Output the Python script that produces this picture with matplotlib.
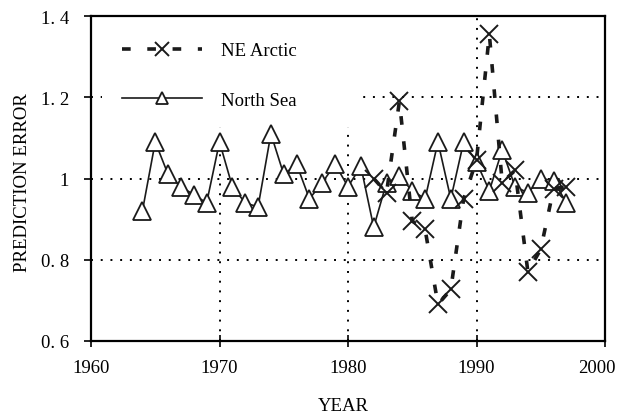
import matplotlib
matplotlib.use("Agg")
import matplotlib.pyplot as plt
import matplotlib.transforms as mtransforms
from matplotlib.patches import Rectangle

# North Sea prediction error, 1964-1997
ns_years = list(range(1964, 1998))
ns_err = [0.92, 1.09, 1.01, 0.98, 0.96, 0.94, 1.09, 0.98, 0.94, 0.93,
          1.11, 1.01, 1.035, 0.95, 0.99, 1.035, 0.98, 1.03, 0.88, 0.99,
          1.005, 0.97, 0.95, 1.09, 0.95, 1.09, 1.04, 0.97, 1.07, 0.98,
          0.965, 1.0, 0.995, 0.94]

# NE Arctic prediction error, 1982-1997
ne_years = list(range(1982, 1998))
ne_err = [1.0, 0.965, 1.19, 0.895, 0.875, 0.69, 0.727, 0.95, 1.045, 1.355,
          0.99, 1.02, 0.77, 0.826, 0.975, 0.98]

yticks = [0.6, 0.8, 1.0, 1.2, 1.4]
ytick_labels = ["0. 6", "0. 8", "1", "1. 2", "1. 4"]
xticks = [1960, 1970, 1980, 1990, 2000]

plt.rcParams['font.family'] = ['Liberation Serif', 'DejaVu Serif']
plt.rcParams['font.size'] = 13.5

fig = plt.figure(figsize=(6.18, 4.14), dpi=100)
ax = fig.add_axes([91/618, 1 - 342/414, 514/618, 325/414])

# partial dotted grid
for y in [0.8, 1.0, 1.2]:
    ax.axhline(y, color='black', lw=1.4, linestyle=(0, (1, 4)), zorder=1)
for x in [1970, 1980, 1990]:
    ax.axvline(x, color='black', lw=1.4, linestyle=(0, (1, 4)), zorder=1)

# white area behind legend hides the grid there
ax.add_patch(Rectangle((0.021, 0.66), 0.495, 0.34, transform=ax.transAxes,
                       facecolor='white', edgecolor='none', zorder=2))

ax.plot(ne_years, ne_err, color='#1a1a1a', lw=2.6, linestyle=(0, (2.4, 4.6)),
        marker='x', ms=13, mew=1.4, mec='#1a1a1a', label='NE Arctic', zorder=4)
ax.plot(ns_years, ns_err, color='#1a1a1a', lw=1.2, marker='^', ms=13,
        mfc='white', mec='#1a1a1a', mew=1.3, label='North Sea', zorder=3)

ax.set_xlim(1960, 2000)
ax.set_ylim(0.6, 1.4)
ax.set_xticks(xticks)
ax.set_yticks(yticks)
ax.set_yticklabels(ytick_labels)
ax.tick_params(axis='x', direction='inout', length=8, width=1.2, pad=9)
ax.tick_params(axis='y', direction='out', length=5, width=1.2, pad=11)
for s in ax.spines.values():
    s.set_linewidth(1.6)

# last x label nudged left so it stays inside the figure
last = ax.get_xticklabels()[-1]
last.set_transform(last.get_transform() +
                   mtransforms.ScaledTranslation(-8/100, 0, fig.dpi_scale_trans))

ax.set_xlabel('YEAR', va='center')
ax.xaxis.set_label_coords(0.49, -0.197)
ax.set_ylabel('PREDICTION ERROR', va='center')
ax.yaxis.set_label_coords(-0.134, 0.49)

leg = ax.legend(loc='upper left', bbox_to_anchor=(0.06, 0.92), frameon=False,
                numpoints=1, handlelength=4.3, handletextpad=1.0,
                labelspacing=1.72, borderaxespad=0, borderpad=0)
leg.legend_handles[0].set_markersize(10)
leg.legend_handles[1].set_markersize(9)

fig.savefig('out.png', dpi=100)
